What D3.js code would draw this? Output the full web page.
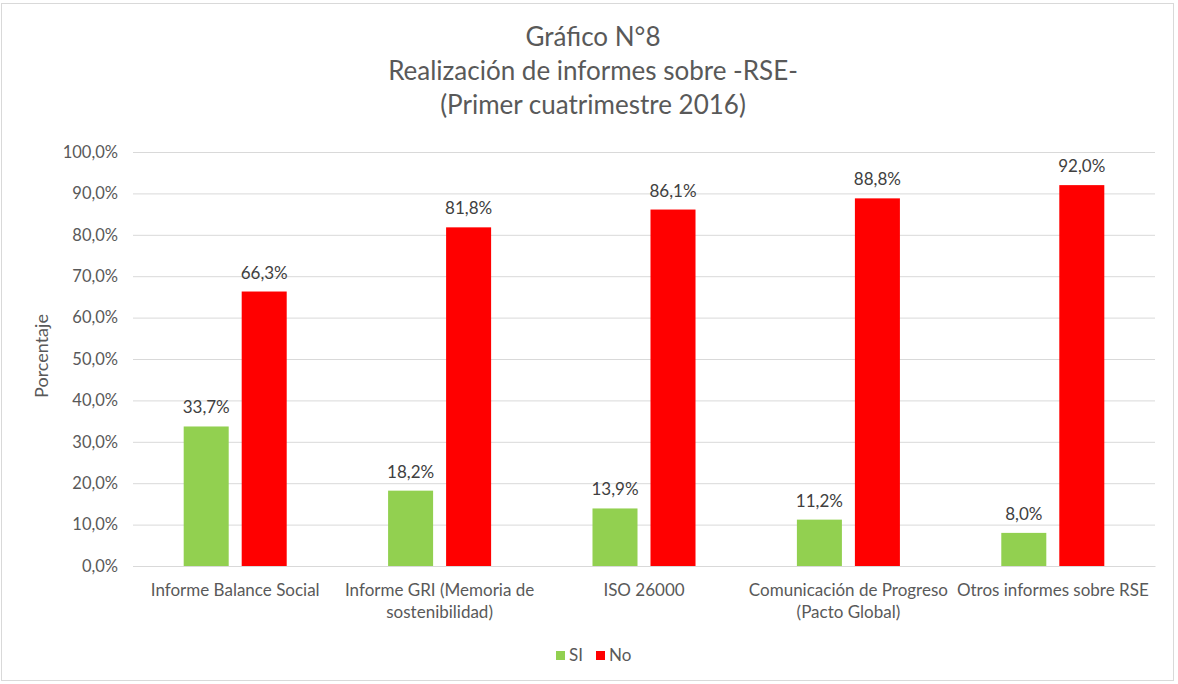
<!DOCTYPE html>
<html>
<head>
<meta charset="utf-8">
<script src="https://cdn.jsdelivr.net/npm/d3@7"></script>
<style>
  body { margin: 0; background: #fff; }
  svg { font-family: Lato, "Open Sans", sans-serif; }
</style>
</head>
<body>
<svg id="chart"></svg>
<script>
// data
var categories = ["Informe Balance Social", "Informe GRI", "ISO 26000", "Comunicación de Progreso", "Otros informes sobre RSE"];
var tickLabels = [
    ["Informe Balance Social"],
    ["Informe GRI (Memoria de", "sostenibilidad)"],
    ["ISO 26000"],
    ["Comunicación de Progreso", "(Pacto Global)"],
    ["Otros informes sobre RSE"]
];
var seriesNames = ["SI", "No"];
var siValues = [0.337, 0.182, 0.139, 0.112, 0.080];
var noValues = [0.663, 0.818, 0.861, 0.888, 0.920];
var titleLines = ["Gráfico N°8", "Realización de informes sobre -RSE-", "(Primer cuatrimestre 2016)"];

var colors = { "SI": "#92d050", "No": "#ff0000" };

var W = 1178, H = 684;
var margin = { top: 152, right: 23, bottom: 118, left: 133 },
    width = W - margin.left - margin.right,
    height = H - margin.top - margin.bottom;

var locale = d3.formatLocale({ decimal: ",", thousands: ".", grouping: [3], currency: ["", "€"] });
var pct = locale.format(".1%");

var root = d3.select("#chart").attr("width", W).attr("height", H);

// outer border
root.append("rect")
    .attr("x", 1.5).attr("y", 3.5)
    .attr("width", 1172).attr("height", 677)
    .attr("fill", "#fff")
    .attr("stroke", "#d9d9d9");

// title
root.append("text")
    .attr("text-anchor", "middle")
    .attr("fill", "#595959")
    .style("font-size", "26px")
    .selectAll("tspan")
    .data(titleLines)
    .enter()
    .append("tspan")
    .attr("x", 593)
    .attr("y", function (d, i) { return 46 + i * 34; })
    .text(function (d) { return d; });

var svg = root.append("g")
    .attr("transform", "translate(" + margin.left + "," + margin.top + ")");

var y = d3.scaleLinear().domain([0, 1]).range([height, 0]);

var x0 = d3.scaleBand()
    .domain(categories)
    .range([0, width])
    .paddingInner(0.496)
    .paddingOuter(0.248);

var x1 = d3.scaleBand()
    .domain(seriesNames)
    .range([0, x0.bandwidth()])
    .paddingInner(0.224);

// gridlines + y labels
var yAxis = svg.append("g")
    .call(d3.axisLeft(y).tickValues(d3.range(0, 1.0001, 0.1)).tickSize(-width).tickPadding(15).tickFormat(pct));
yAxis.select(".domain").remove();
yAxis.selectAll("line").attr("stroke", "#d9d9d9");
yAxis.selectAll("text")
    .attr("fill", "#595959")
    .style("font-size", "16.5px")
    .style("font-family", "Lato, 'Open Sans', sans-serif");

// y axis title
root.append("text")
    .attr("transform", "translate(48,356) rotate(-90)")
    .attr("text-anchor", "middle")
    .attr("fill", "#595959")
    .style("font-size", "18px")
    .text("Porcentaje");

// bars
var rows = categories.map(function (c, i) {
    return { cat: c, values: [{ key: "SI", v: siValues[i] }, { key: "No", v: noValues[i] }] };
});

var groups = svg.selectAll(".grp")
    .data(rows)
    .enter()
    .append("g")
    .attr("transform", function (d) { return "translate(" + x0(d.cat) + ",0)"; });

groups.selectAll("rect")
    .data(function (d) { return d.values; })
    .enter()
    .append("rect")
    .attr("x", function (d) { return x1(d.key); })
    .attr("y", function (d) { return y(d.v); })
    .attr("width", x1.bandwidth())
    .attr("height", function (d) { return height - y(d.v); })
    .attr("fill", function (d) { return colors[d.key]; });

groups.selectAll(".lbl")
    .data(function (d) { return d.values; })
    .enter()
    .append("text")
    .attr("x", function (d) { return x1(d.key) + x1.bandwidth() / 2; })
    .attr("y", function (d) { return y(d.v) - 13; })
    .attr("text-anchor", "middle")
    .attr("fill", "#404040")
    .style("font-size", "17px")
    .text(function (d) { return pct(d.v); });

// x axis
var xAxis = svg.append("g")
    .attr("transform", "translate(0," + height + ")")
    .call(d3.axisBottom(x0).tickSize(0).tickFormat(""));
xAxis.select(".domain").attr("stroke", "#d9d9d9");
xAxis.selectAll(".tick").append("text")
    .attr("text-anchor", "middle")
    .attr("fill", "#595959")
    .style("font-size", "17px")
    .style("font-family", "Lato, 'Open Sans', sans-serif")
    .each(function (d, i) {
        var t = d3.select(this);
        tickLabels[i].forEach(function (line, j) {
            t.append("tspan").attr("x", 0).attr("y", 30 + j * 22).text(line);
        });
    });

// legend
var legend = root.append("g").attr("transform", "translate(556,651)");
var items = legend.selectAll("g")
    .data(seriesNames)
    .enter()
    .append("g")
    .attr("transform", function (d, i) { return "translate(" + (i * 40) + ",0)"; });
items.append("rect")
    .attr("width", 9).attr("height", 9)
    .attr("fill", function (d) { return colors[d]; });
items.append("text")
    .attr("x", 13).attr("y", 10)
    .attr("fill", "#595959")
    .style("font-size", "17px")
    .text(function (d) { return d; });
</script>
</body>
</html>
